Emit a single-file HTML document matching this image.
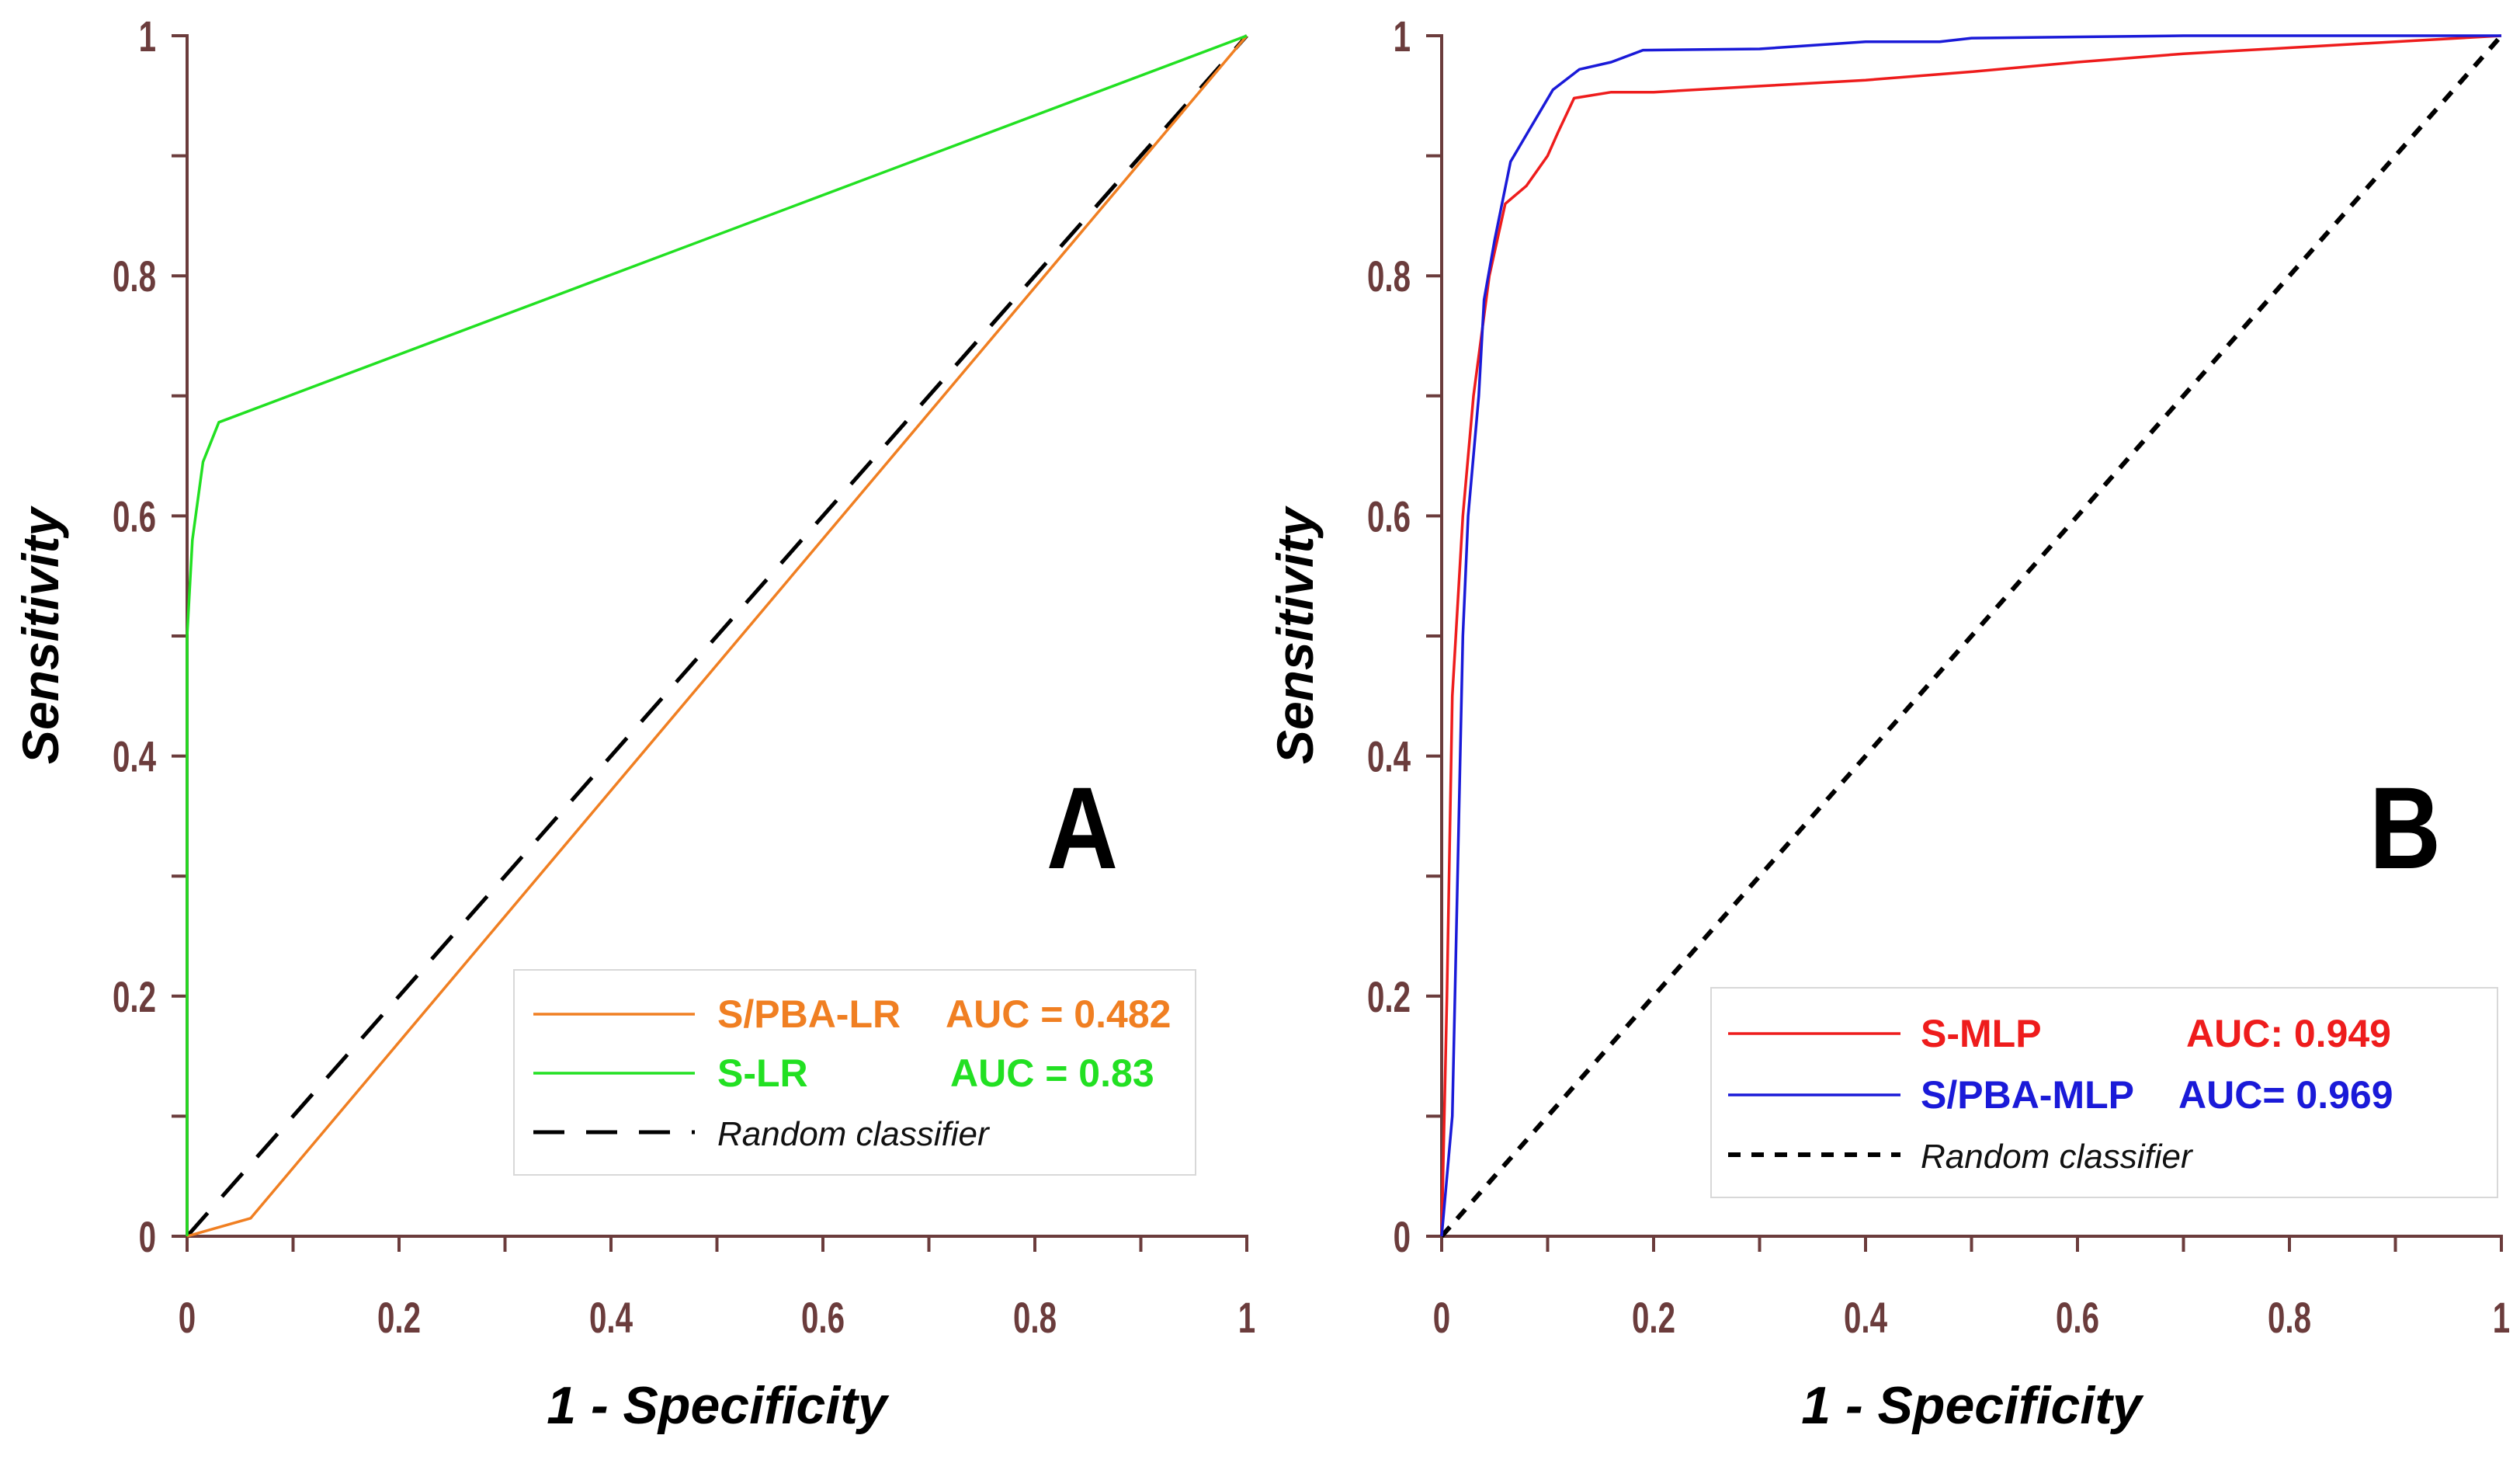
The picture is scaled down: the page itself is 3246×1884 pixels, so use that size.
<!DOCTYPE html>
<html><head><meta charset="utf-8">
<style>
html,body{margin:0;padding:0;background:#fff;}
svg{display:block;}
text{font-family:"Liberation Sans",sans-serif;}
</style></head>
<body>
<svg id="chart" width="3246" height="1884" viewBox="0 0 3246 1884" xmlns="http://www.w3.org/2000/svg"></svg>
<script>
const ticks = [0, 0.2, 0.4, 0.6, 0.8, 1];
const tickLabels = ["0", "0.2", "0.4", "0.6", "0.8", "1"];
const minorTicks = [0.1, 0.3, 0.5, 0.7, 0.9];
const slrX = [0, 0, 0.005, 0.015, 0.03, 1];
const slrY = [0, 0.5, 0.58, 0.645, 0.678, 1];
const spbaLrX = [0, 0.06, 1];
const spbaLrY = [0, 0.015, 1];
const smlpX = [0, 0.005, 0.01, 0.02, 0.03, 0.045, 0.06, 0.08, 0.1, 0.11, 0.125, 0.16, 0.2, 0.3, 0.4, 0.5, 0.6, 0.7, 0.8, 0.9, 1];
const smlpY = [0, 0.2, 0.45, 0.6, 0.7, 0.8, 0.86, 0.875, 0.9, 0.92, 0.948, 0.953, 0.953, 0.958, 0.963, 0.97, 0.978, 0.985, 0.99, 0.995, 1];
const spbaMlpX = [0, 0.01, 0.015, 0.02, 0.025, 0.035, 0.04, 0.05, 0.065, 0.085, 0.105, 0.13, 0.16, 0.19, 0.3, 0.4, 0.47, 0.5, 0.7, 0.97, 1];
const spbaMlpY = [0, 0.1, 0.3, 0.5, 0.6, 0.7, 0.78, 0.83, 0.895, 0.925, 0.955, 0.972, 0.978, 0.988, 0.989, 0.995, 0.995, 0.998, 1, 1, 1];
const randX = [0, 1];
const randY = [0, 1];

const NS = "http://www.w3.org/2000/svg";
const svg = document.getElementById("chart");
const AX = "#6b3c3c";
function mk(tag, attrs, parent) {
  const e = document.createElementNS(NS, tag);
  for (const k in attrs) e.setAttribute(k, attrs[k]);
  (parent || svg).appendChild(e);
  return e;
}

function panel(p) {
  const g = mk("g", {});
  
  
  const sx = v => p.x0 + v * (p.x1 - p.x0);
  const sy = v => p.y0 - v * (p.y0 - p.y1);
  const ya = mk("line", {x1: p.x0, y1: p.y1 - 2, x2: p.x0, y2: p.y0, stroke: AX, "stroke-width": 4}, g);
  
  
  const xa = mk("line", {x1: p.x0, y1: p.y0, x2: p.x1 + 2, y2: p.y0, stroke: AX, "stroke-width": 4}, g);
  
  
  ticks.concat(minorTicks).forEach(v => {
    mk("line", {x1: p.x0 - 20, y1: sy(v), x2: p.x0, y2: sy(v), stroke: AX, "stroke-width": 4}, g);
    mk("line", {x1: sx(v), y1: p.y0, x2: sx(v), y2: p.y0 + 20, stroke: AX, "stroke-width": 4}, g);
  });
  ticks.forEach((v, i) => {
    const t = mk("text", {x: 0, y: 0, transform: `translate(${p.x0 - 40},${sy(v) + 20}) scale(0.72,1)`, "text-anchor": "end", "font-size": 56, "font-weight": "bold", fill: AX}, g);
    t.textContent = tickLabels[i];
    
    
    const u = mk("text", {x: 0, y: 0, transform: `translate(${sx(v)},${p.y0 + 124}) scale(0.72,1)`, "text-anchor": "middle", "font-size": 56, "font-weight": "bold", fill: AX}, g);
    u.textContent = tickLabels[i];
    
    
  });
  const yt = mk("text", {x: 0, y: 0, transform: `translate(${p.x0 - 166},${(p.y0 + p.y1) / 2}) rotate(-90)`, "text-anchor": "middle", "font-size": 66, "font-weight": "bold", "font-style": "italic", fill: "#000"}, g);
  yt.textContent = "Sensitivity";
  
  
  const xt = mk("text", {x: (p.x0 + p.x1) / 2, y: 1833, "text-anchor": "middle", "font-size": 68, "font-weight": "bold", "font-style": "italic", fill: "#000"}, g);
  xt.textContent = "1 - Specificity";
  
  
  p.series.forEach(s => {
    const d = s.x.map((v, i) => (i ? "L" : "M") + sx(v).toFixed(1) + "," + sy(s.y[i]).toFixed(1)).join(" ");
    const path = mk("path", {d: d, fill: "none", stroke: s.color, "stroke-width": s.w || 3.5, "stroke-dasharray": s.dash || "none", "stroke-linejoin": "round"}, g);
    
    
  });
  const L = mk("text", {x: 0, y: 0, transform: `translate(${p.letterX},1118) scale(0.85,1)`, "text-anchor": "middle", "font-size": 150, "font-weight": "bold", fill: "#000"}, g);
  L.textContent = p.letter;
  
  
  const lg = mk("g", {}, g);
  
  
  const b = p.leg;
  mk("rect", {x: b.x, y: b.y, width: b.w, height: b.h, fill: "#fff", stroke: "#d8d8d8", "stroke-width": 2}, lg);
  b.rows.forEach((r, i) => {
    const y = b.rowY[i];
    const ln = mk("line", {x1: b.lx0, y1: y, x2: b.lx1, y2: y, stroke: r.color, "stroke-width": r.sw || 3.5, "stroke-dasharray": r.dash || "none"}, lg);
    
    
    const t = mk("text", {x: b.tx, y: y + 17, "font-size": r.italic ? 44 : 50, "font-weight": r.italic ? "normal" : "bold", "font-style": r.italic ? "italic" : "normal", fill: r.tcolor}, lg);
    t.textContent = r.label;
    
    
    if (r.auc) {
      const a = mk("text", {x: r.ax, y: y + 17, "font-size": 50, "font-weight": "bold", fill: r.tcolor}, lg);
      a.textContent = r.auc;
      
      
    }
  });
}

panel({
  name: "panel-a", letter: "A", letterX: 1394,
  x0: 241, x1: 1606, y0: 1592, y1: 46,
  series: [
    {name: "random-classifier-line", x: randX, y: randY, color: "#000", dash: "40 28", w: 5},
    {name: "spba-lr-curve", x: spbaLrX, y: spbaLrY, color: "#f07f22"},
    {name: "s-lr-curve", x: slrX, y: slrY, color: "#22e022"}
  ],
  leg: {x: 662, y: 1249, w: 878, h: 264, lx0: 687, lx1: 895, tx: 924,
    rowY: [1306, 1382, 1458],
    rows: [
      {color: "#f07f22", tcolor: "#f07f22", label: "S/PBA-LR", auc: "AUC = 0.482", ax: 1218},
      {color: "#22e022", tcolor: "#22e022", label: "S-LR", auc: "AUC = 0.83", ax: 1224},
      {color: "#000", tcolor: "#111", label: "Random classifier", italic: true, dash: "40 28", sw: 5}
    ]}
});
panel({
  name: "panel-b", letter: "B", letterX: 3098,
  x0: 1857, x1: 3222, y0: 1592, y1: 46,
  series: [
    {name: "random-classifier-line", x: randX, y: randY, color: "#000", dash: "16 14", w: 6},
    {name: "s-mlp-curve", x: smlpX, y: smlpY, color: "#ee1c1c"},
    {name: "spba-mlp-curve", x: spbaMlpX, y: spbaMlpY, color: "#1a1ad8"}
  ],
  leg: {x: 2204, y: 1272, w: 1013, h: 270, lx0: 2226, lx1: 2448, tx: 2474,
    rowY: [1331, 1410, 1487],
    rows: [
      {color: "#ee1c1c", tcolor: "#ee1c1c", label: "S-MLP", auc: "AUC: 0.949", ax: 2816},
      {color: "#1a1ad8", tcolor: "#1a1ad8", label: "S/PBA-MLP", auc: "AUC= 0.969", ax: 2806},
      {color: "#000", tcolor: "#111", label: "Random classifier", italic: true, dash: "16 14", sw: 6}
    ]}
});
</script>
</body></html>
